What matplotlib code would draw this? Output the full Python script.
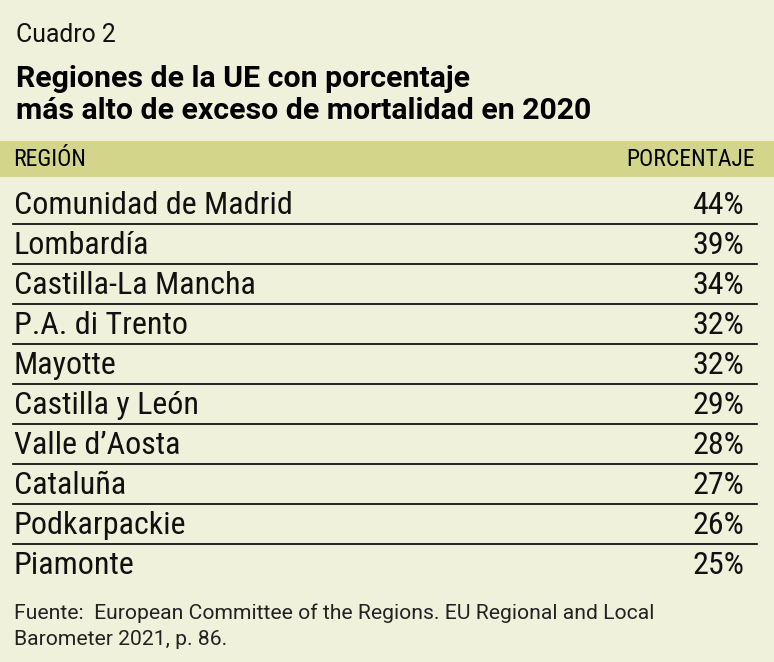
import matplotlib
matplotlib.use("Agg")
import matplotlib.pyplot as plt
from matplotlib import font_manager

regions = [
    "Comunidad de Madrid", "Lombardía", "Castilla-La Mancha", "P.A. di Trento",
    "Mayotte", "Castilla y León", "Valle d\u2019Aosta", "Cataluña",
    "Podkarpackie", "Piamonte",
]
percent = [44, 39, 34, 32, 32, 29, 28, 27, 26, 25]

label = "Cuadro 2"
title = "Regiones de la UE con porcentaje\nmás alto de exceso de mortalidad en 2020"
col_names = ["REGIÓN", "PORCENTAJE"]
source = ("Fuente:  European Committee of the Regions. EU Regional and Local\n"
          "Barometer 2021, p. 86.")

names = {f.name for f in font_manager.fontManager.ttflist}


def pick(*cands):
    for c in cands:
        if c in names:
            return [c, "DejaVu Sans"]
    return ["DejaVu Sans"]


narrow = pick("Roboto Condensed", "Liberation Sans Narrow", "DejaVu Sans Condensed")
normal = pick("Roboto", "Noto Sans", "DejaVu Sans")

BG = "#f0f1db"
BAND = "#d3d68a"

W, H = 774, 662
fig = plt.figure(figsize=(W / 100, H / 100), dpi=100, facecolor=BG)
ax = fig.add_axes([0, 0, 1, 1])
ax.set_xlim(0, W)
ax.set_ylim(H, 0)
ax.axis("off")

ax.text(16, 35, label, fontsize=17.8, family=normal, va="center", ha="left",
        color="#111111")
ax.text(16, 95, title, fontsize=21.8, family=normal, fontweight="bold",
        va="center", ha="left", linespacing=1.15, color="#000000")

ax.add_patch(plt.Rectangle((0, 141), W, 36, color=BAND, lw=0))
ax.text(13, 159, col_names[0], fontsize=17, family=narrow, va="center", ha="left")
ax.text(755, 159, col_names[1], fontsize=17, family=narrow, va="center", ha="right")

row0, step = 205, 40.1
for i, (r, p) in enumerate(zip(regions, percent)):
    y = row0 + i * step
    ax.text(14, y, r, fontsize=23, family=narrow, va="center", ha="left",
            color="#111111")
    ax.text(744, y, f"{p}%", fontsize=23, family=narrow, va="center", ha="right",
            color="#111111")
    if i < len(regions) - 1:
        ax.plot([13, 757], [y + 18.5, y + 18.5], color="black", lw=1.2)

ax.text(14, 626, source, fontsize=15.2, family=normal, va="center", ha="left",
        linespacing=1.45, color="#222222")

fig.savefig("out.png", dpi=100, facecolor=BG)
